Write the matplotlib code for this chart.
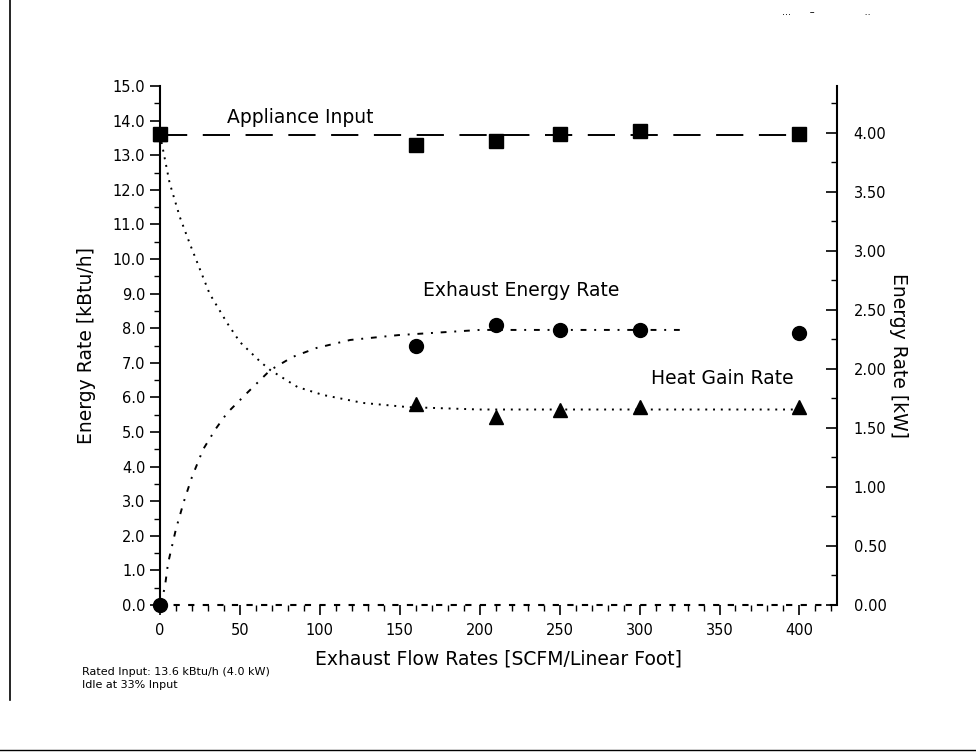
import matplotlib
matplotlib.use("Agg")
import matplotlib.pyplot as plt
from matplotlib.lines import Line2D
from matplotlib.ticker import MultipleLocator, FormatStrFormatter

plt.rcParams['font.family'] = ['DejaVu Sans']

# ---- measured data (kBtu/h) ----
flow = [0, 160, 210, 250, 300, 400]
appliance_input = [13.6, 13.3, 13.4, 13.6, 13.7, 13.6]
exhaust_rate = [0.0, 7.5, 8.1, 7.95, 7.95, 7.85]
heat_gain = [13.6, 5.8, 5.43, 5.64, 5.72, 5.72]

# fitted trend curves
decay_x = [0, 6, 12.5, 19, 25, 31, 42, 50, 63, 69, 86, 102, 127, 155, 200, 300, 400]
decay_y = [13.6, 12.2, 11.2, 10.4, 9.7, 9.0, 8.15, 7.6, 7.02, 6.79, 6.3, 6.07, 5.84, 5.72, 5.65, 5.65, 5.65]
rise_x = [0, 3, 5, 10, 15, 20, 27, 35, 42, 54.5, 69, 83, 98, 119, 149, 200, 330]
rise_y = [0.0, 0.5, 1.2, 2.2, 3.0, 3.7, 4.5, 5.1, 5.55, 6.13, 6.79, 7.17, 7.43, 7.66, 7.8, 7.95, 7.95]
input_line_x = [0, 400]
input_line_y = [13.58, 13.58]

KW_PER_KBTU = 1 / 3.412

fig = plt.figure(figsize=(9.76, 7.56), dpi=100)
ax = fig.add_axes([160/976, 1-605/756, (837-160)/976, (605-86)/756])

ax.plot(decay_x, decay_y, color='black', lw=1.4, ls=(0, (1, 3)))
ax.plot(rise_x, rise_y, color='black', lw=1.4, ls=(0, (3, 4, 1, 4)))
ax.plot(input_line_x, input_line_y, color='black', lw=1.4, ls=(0, (14, 8)))

for ys, mk in ((appliance_input, 's'), (exhaust_rate, 'o'), (heat_gain, '^')):
    ax.plot(flow, ys, ls='none', marker=mk, ms=10, color='black', clip_on=False, zorder=5)

ax.set_xlim(0, 423.5)
ax.set_ylim(0, 15)
ax.spines['top'].set_visible(False)
ax.spines['right'].set_visible(False)
ax.spines['bottom'].set_linestyle((0, (2, 5)))
ax.spines['left'].set_linewidth(1.5)
ax.spines['bottom'].set_linewidth(1.5)

ax.xaxis.set_major_locator(MultipleLocator(50))
ax.xaxis.set_minor_locator(MultipleLocator(10))
ax.yaxis.set_major_locator(MultipleLocator(1))
ax.yaxis.set_minor_locator(MultipleLocator(0.5))
ax.yaxis.set_major_formatter(FormatStrFormatter('%.1f'))
ax.tick_params(axis='both', which='major', length=7, width=1.2, labelsize=10.5, direction='out')
ax.tick_params(axis='both', which='minor', length=4, width=1.0, direction='out')
ax.tick_params(axis='x', pad=6)

ax2 = ax.twinx()
ax2.set_ylim(0, 15 * KW_PER_KBTU)
ax2.spines['top'].set_visible(False)
ax2.spines['left'].set_visible(False)
ax2.spines['bottom'].set_visible(False)
ax2.spines['right'].set_linewidth(1.5)
ax2.yaxis.set_major_locator(MultipleLocator(0.5))
ax2.yaxis.set_minor_locator(MultipleLocator(0.25))
ax2.yaxis.set_major_formatter(FormatStrFormatter('%.2f'))
ax2.tick_params(axis='y', which='major', length=8, width=1.2, direction='in', labelsize=10.5, pad=12)
ax2.tick_params(axis='y', which='minor', length=4, width=1.0, direction='in')

ax.set_xlabel('Exhaust Flow Rates [SCFM/Linear Foot]', fontsize=13.5, labelpad=8)
ax.set_ylabel('Energy Rate [kBtu/h]', fontsize=13.5, labelpad=12)
ax2.set_ylabel('Energy Rate [kW]', fontsize=13.5, rotation=-90, labelpad=22)
ax2.yaxis.set_label_coords(1.105, 0.48)

ax.text(88, 14.1, 'Appliance Input', fontsize=13.5, ha='center', va='center')
ax.text(226, 9.1, 'Exhaust Energy Rate', fontsize=13.5, ha='center', va='center')
ax.text(352, 6.55, 'Heat Gain Rate', fontsize=13.5, ha='center', va='center')

fig.text(82/976, 1-672/756, 'Rated Input: 13.6 kBtu/h (4.0 kW)', fontsize=8, va='center')
fig.text(82/976, 1-685/756, 'Idle at 33% Input', fontsize=8, va='center')
fig.text(782/976, 1-12/756, '...      \u2013                ..', fontsize=7, va='center')

fig.add_artist(Line2D([10/976, 10/976], [1-0/756, 1-700/756], color='black', lw=1.2))
fig.add_artist(Line2D([0, 1], [1-750/756, 1-750/756], color='black', lw=1.0))

fig.savefig('out.png', dpi=100)
